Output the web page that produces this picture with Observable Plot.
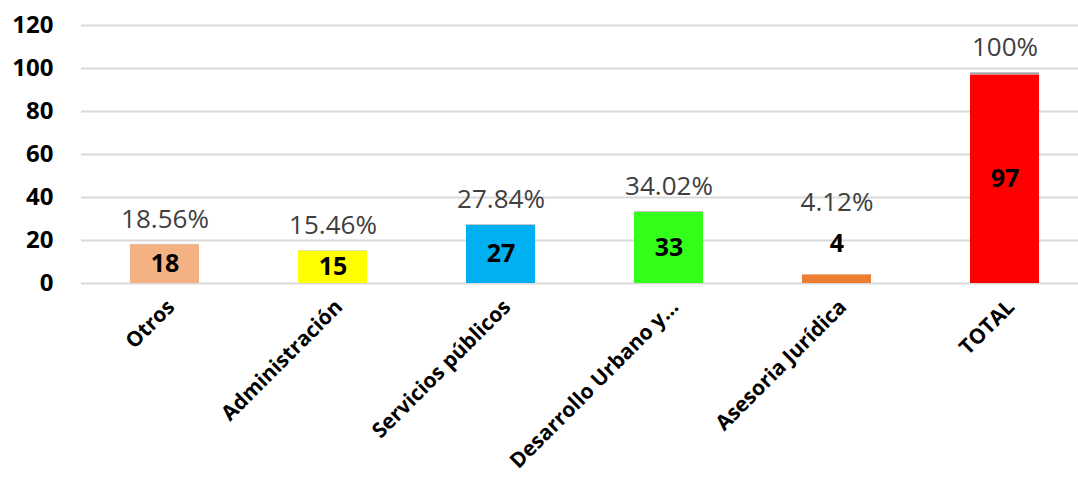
<!DOCTYPE html>
<html>
<head>
<meta charset="utf-8">
<script src="https://cdn.jsdelivr.net/npm/d3@7"></script>
<script src="https://cdn.jsdelivr.net/npm/@observablehq/plot@0.6"></script>
<style>
  html, body { margin: 0; padding: 0; background: #ffffff; }
  #chart svg { display: block; }
</style>
</head>
<body>
<div id="chart"></div>
<script>
const categories = ["Otros", "Administración", "Servicios públicos", "Desarrollo Urbano y...", "Asesoria Jurídica", "TOTAL"];
const values = [18, 15, 27, 33, 4, 97];
const percentLabels = ["18.56%", "15.46%", "27.84%", "34.02%", "4.12%", "100%"];
const percentValues = [18.56, 15.46, 27.84, 34.02, 4.12, 100];
const barColors = ["#f4b183", "#ffff00", "#00b0f0", "#33ff1a", "#ed7d31", "#ff0000"];
const yTicks = [0, 20, 40, 60, 80, 100, 120];

const data = categories.map((c, i) => ({
  category: c,
  value: values[i],
  pct: percentValues[i],
  pctLabel: percentLabels[i],
  color: barColors[i],
  top: values[i] + percentValues[i] / 100
}));
const small = d => d.value < 10;
const normal = d => d.value >= 10;

const font = "'Open Sans', sans-serif";

const chart = Plot.plot({
  width: 1078,
  height: 484,
  marginLeft: 81,
  marginRight: 0,
  marginTop: 25,
  marginBottom: 201,
  style: { fontFamily: font, background: "#ffffff" },
  x: { domain: categories, range: [78, 1091], paddingInner: 0.59, paddingOuter: 0.295, label: null },
  y: { domain: [0, 120], label: null },
  marks: [
    Plot.ruleY(yTicks, { stroke: "#d9d9d9", strokeWidth: 2 }),
    Plot.barY(data, { x: "category", y: "value", fill: "color" }),
    Plot.barY(data, { x: "category", y1: "value", y2: "top", fill: "#a5a5a5" }),
    Plot.text(data.filter(normal), {
      x: "category", y: d => d.value / 2, text: d => String(d.value),
      fontSize: 25, fontWeight: "bold", fill: "#000000", lineAnchor: "middle"
    }),
    Plot.text(data.filter(small), {
      x: "category", y: "top", text: d => String(d.value),
      fontSize: 25, fontWeight: "bold", fill: "#000000", lineAnchor: "middle", dy: -31
    }),
    Plot.text(data.filter(normal), {
      x: "category", y: "top", text: "pctLabel",
      fontSize: 26, fill: "#404040", lineAnchor: "middle", dy: -25
    }),
    Plot.text(data.filter(small), {
      x: "category", y: "top", text: "pctLabel",
      fontSize: 26, fill: "#404040", lineAnchor: "middle", dy: -72
    }),
    Plot.axisY({
      ticks: yTicks, tickSize: 0, tickPadding: 28, fontSize: 24, fontWeight: "bold",
      fill: "#000000", label: null
    }),
    Plot.axisX({
      tickSize: 0, tickPadding: 20, tickRotate: -45, fontSize: 21, fontWeight: "bold",
      fill: "#000000", label: null, dx: 6
    })
  ]
});
document.getElementById("chart").appendChild(chart);
</script>
</body>
</html>
